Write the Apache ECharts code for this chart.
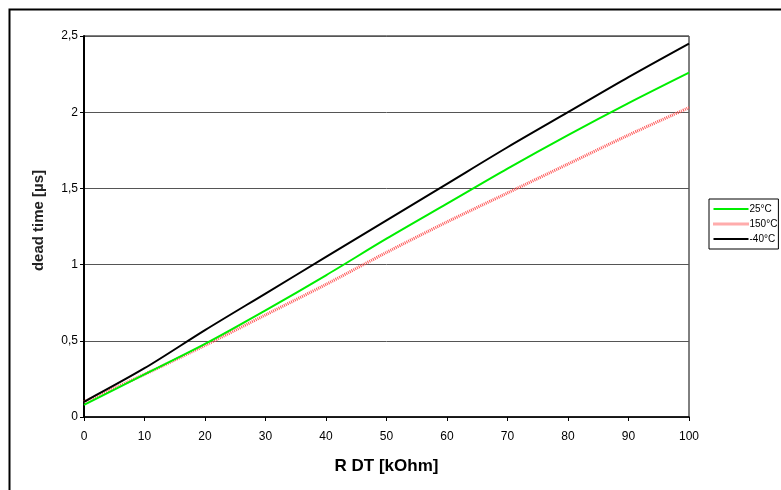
<!DOCTYPE html>
<html><head><meta charset="utf-8">
<script src="https://cdn.jsdelivr.net/npm/echarts@6/dist/echarts.min.js"></script>
<style>html,body{margin:0;padding:0;background:#fff}#c{width:781px;height:490px}</style>
</head><body><div id="c"></div>
<script>
const xValues = [0, 10, 20, 30, 40, 50, 60, 70, 80, 90, 100];
const seriesNames = ['25°C', '150°C', '-40°C'];
const green25 = [0.08, 0.28, 0.48, 0.70, 0.93, 1.17, 1.40, 1.63, 1.85, 2.06, 2.26];
const red150 = [0.10, 0.28, 0.47, 0.67, 0.87, 1.08, 1.28, 1.47, 1.66, 1.85, 2.03];
const black40 = [0.10, 0.32, 0.57, 0.81, 1.05, 1.29, 1.53, 1.77, 2.00, 2.23, 2.45];
const xTitle = 'R DT [kOhm]';
const yTitle = 'dead time [µs]';

const pairs = arr => xValues.map((x, i) => [x, arr[i]]);
const font = 'Liberation Sans, Arial, sans-serif';
const chart = echarts.init(document.getElementById('c'), null, {renderer: 'canvas'});
chart.setOption({
  animation: false,
  backgroundColor: '#fff',
  textStyle: {fontFamily: font},
  grid: {left: 84, top: 36, width: 605, height: 381, show: true, borderColor: '#000', borderWidth: 1, containLabel: false},
  legend: {
    orient: 'vertical', left: 709, top: 199, width: 64,
    padding: [5, 1, 5, 3], itemGap: 5, itemWidth: 35, itemHeight: 12,
    borderColor: '#000', borderWidth: 1, backgroundColor: '#fff',
    itemStyle: {opacity: 0},
    textStyle: {fontSize: 10, color: '#000', fontFamily: font, padding: [0, 0, 0, -4]},
    data: [
      {name: seriesNames[0], lineStyle: {width: 2, color: '#00ee00'}},
      {name: seriesNames[1], lineStyle: {width: 3, color: '#ff5858', type: [1, 1]}},
      {name: seriesNames[2], lineStyle: {width: 2, color: '#000'}}
    ]
  },
  xAxis: {
    type: 'value', min: 0, max: 100, interval: 10,
    name: xTitle, nameLocation: 'middle', nameGap: 41,
    nameTextStyle: {fontSize: 17, fontWeight: 'bold', color: '#000', fontFamily: font},
    axisLine: {lineStyle: {color: '#000', width: 1.5}},
    axisTick: {show: true, length: 4, lineStyle: {color: '#000'}},
    axisLabel: {fontSize: 12, color: '#000', margin: 14, fontFamily: font},
    splitLine: {show: false}
  },
  yAxis: {
    type: 'value', min: 0, max: 2.5, interval: 0.5,
    name: yTitle, nameLocation: 'middle', nameGap: 38,
    nameTextStyle: {fontSize: 15, fontWeight: 'bold', color: '#222', fontFamily: font, padding: [0, 0, 0, 12]},
    axisLine: {show: true, lineStyle: {color: '#000', width: 2}},
    axisTick: {show: true, length: 4, lineStyle: {color: '#000'}},
    axisLabel: {fontSize: 12, color: '#000', margin: 6, fontFamily: font,
      formatter: v => String(v).replace('.', ',')},
    splitLine: {show: true, lineStyle: {color: '#555', width: 1}}
  },
  series: [
    {name: seriesNames[0], type: 'line', data: pairs(green25), symbol: 'none', smooth: 0.3,
     lineStyle: {color: '#00ee00', width: 2}, itemStyle: {color: '#00ee00'}, z: 3},
    {name: seriesNames[1], type: 'line', data: pairs(red150), symbol: 'none', smooth: 0.3,
     lineStyle: {color: '#ff5858', width: 3, type: [1, 1]}, itemStyle: {color: '#ff5858'}, z: 2},
    {name: seriesNames[2], type: 'line', data: pairs(black40), symbol: 'none', smooth: 0.3,
     lineStyle: {color: '#000', width: 2}, itemStyle: {color: '#000'}, z: 4}
  ],
  graphic: [
    {type: 'rect', shape: {x: 9.5, y: 9.5, width: 820, height: 520}, style: {fill: null, stroke: '#000', lineWidth: 2}, silent: true}
  ]
});
</script></body></html>
